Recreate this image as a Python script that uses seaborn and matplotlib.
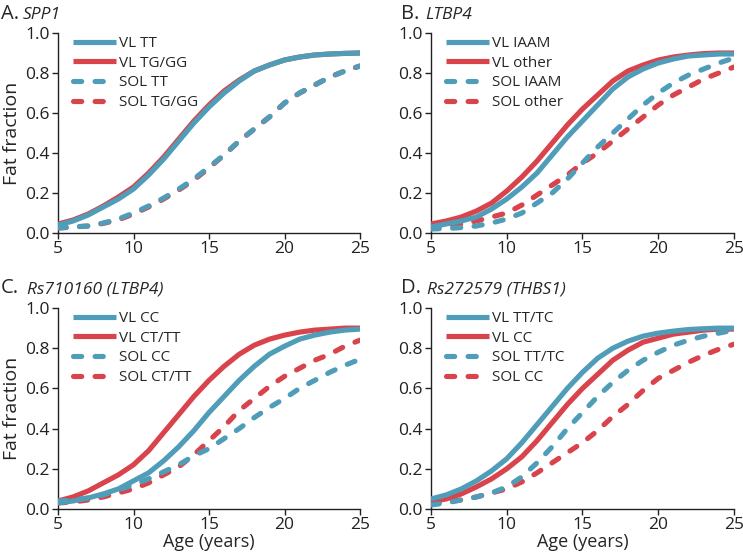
import matplotlib
matplotlib.use("Agg")
import matplotlib.pyplot as plt
import pandas as pd
import seaborn as sns

AGES = list(range(5, 26))

# panel A: SPP1
A_VL_TT = [0.04, 0.06, 0.09, 0.13, 0.17, 0.22, 0.29, 0.37, 0.46, 0.55, 0.63, 0.70, 0.76, 0.81, 0.84, 0.865, 0.88, 0.89, 0.895, 0.898, 0.90]
A_VL_TG = [0.045, 0.065, 0.095, 0.135, 0.18, 0.23, 0.30, 0.38, 0.47, 0.56, 0.64, 0.71, 0.765, 0.81, 0.84, 0.865, 0.88, 0.89, 0.895, 0.898, 0.90]
A_SOL_TT = [0.025, 0.03, 0.035, 0.05, 0.07, 0.10, 0.135, 0.175, 0.22, 0.27, 0.33, 0.39, 0.46, 0.52, 0.58, 0.65, 0.70, 0.74, 0.78, 0.81, 0.835]
A_SOL_TG = [0.025, 0.03, 0.035, 0.048, 0.066, 0.095, 0.13, 0.17, 0.215, 0.265, 0.325, 0.39, 0.46, 0.52, 0.58, 0.65, 0.70, 0.74, 0.78, 0.81, 0.835]

# panel B: LTBP4
B_VL_IAAM = [0.03, 0.045, 0.06, 0.08, 0.12, 0.17, 0.23, 0.30, 0.39, 0.48, 0.56, 0.64, 0.72, 0.78, 0.82, 0.85, 0.87, 0.885, 0.89, 0.895, 0.895]
B_VL_OTHER = [0.045, 0.06, 0.08, 0.11, 0.15, 0.21, 0.28, 0.36, 0.45, 0.54, 0.62, 0.69, 0.76, 0.81, 0.84, 0.865, 0.88, 0.89, 0.897, 0.90, 0.90]
B_SOL_IAAM = [0.02, 0.022, 0.027, 0.035, 0.05, 0.07, 0.10, 0.15, 0.20, 0.27, 0.35, 0.43, 0.50, 0.57, 0.64, 0.70, 0.75, 0.79, 0.82, 0.85, 0.875]
B_SOL_OTHER = [0.03, 0.035, 0.045, 0.06, 0.08, 0.10, 0.14, 0.19, 0.24, 0.29, 0.35, 0.40, 0.46, 0.52, 0.58, 0.64, 0.69, 0.73, 0.77, 0.80, 0.83]

# panel C: rs710160 (LTBP4)
C_VL_CC = [0.03, 0.04, 0.055, 0.075, 0.10, 0.14, 0.18, 0.24, 0.31, 0.39, 0.48, 0.56, 0.64, 0.71, 0.77, 0.81, 0.845, 0.865, 0.88, 0.89, 0.895]
C_VL_CT = [0.04, 0.06, 0.09, 0.13, 0.17, 0.22, 0.29, 0.38, 0.47, 0.56, 0.64, 0.71, 0.77, 0.815, 0.845, 0.865, 0.88, 0.89, 0.895, 0.90, 0.90]
C_SOL_CC = [0.04, 0.045, 0.055, 0.07, 0.095, 0.12, 0.15, 0.185, 0.22, 0.265, 0.30, 0.35, 0.40, 0.455, 0.505, 0.55, 0.60, 0.64, 0.68, 0.715, 0.745]
C_SOL_CT = [0.03, 0.035, 0.045, 0.06, 0.08, 0.10, 0.13, 0.17, 0.21, 0.27, 0.34, 0.41, 0.49, 0.55, 0.61, 0.66, 0.70, 0.74, 0.77, 0.81, 0.84]

# panel D: rs272579 (THBS1)
D_VL_TT = [0.05, 0.07, 0.10, 0.14, 0.19, 0.25, 0.33, 0.42, 0.51, 0.60, 0.68, 0.75, 0.80, 0.835, 0.86, 0.875, 0.885, 0.893, 0.897, 0.90, 0.90]
D_VL_CC = [0.035, 0.05, 0.075, 0.11, 0.15, 0.20, 0.26, 0.34, 0.43, 0.52, 0.60, 0.67, 0.74, 0.79, 0.83, 0.85, 0.87, 0.88, 0.89, 0.895, 0.895]
D_SOL_TT = [0.02, 0.03, 0.045, 0.06, 0.08, 0.11, 0.16, 0.23, 0.31, 0.40, 0.48, 0.56, 0.63, 0.69, 0.74, 0.78, 0.815, 0.84, 0.86, 0.875, 0.89]
D_SOL_CC = [0.03, 0.035, 0.045, 0.06, 0.08, 0.10, 0.135, 0.18, 0.23, 0.28, 0.33, 0.39, 0.46, 0.52, 0.59, 0.65, 0.69, 0.73, 0.765, 0.795, 0.82]

PANELS = [
    ("A.", "SPP1", [("VL TT", A_VL_TT), ("VL TG/GG", A_VL_TG), ("SOL TT", A_SOL_TT), ("SOL TG/GG", A_SOL_TG)]),
    ("B.", "LTBP4", [("VL IAAM", B_VL_IAAM), ("VL other", B_VL_OTHER), ("SOL IAAM", B_SOL_IAAM), ("SOL other", B_SOL_OTHER)]),
    ("C.", "Rs710160 (LTBP4)", [("VL CC", C_VL_CC), ("VL CT/TT", C_VL_CT), ("SOL CC", C_SOL_CC), ("SOL CT/TT", C_SOL_CT)]),
    ("D.", "Rs272579 (THBS1)", [("VL TT/TC", D_VL_TT), ("VL CC", D_VL_CC), ("SOL TT/TC", D_SOL_TT), ("SOL CC", D_SOL_CC)]),
]

BLUE = "#4f9db8"
RED = "#d9434b"
DASH = (0, (1.6, 2.6))
# colour, linestyle, zorder (blue sits on top of red)
STYLES = [(BLUE, "-", 4), (RED, "-", 3), (BLUE, DASH, 4), (RED, DASH, 3)]

sns.set_theme(style="ticks")
plt.rcParams["font.family"] = ["Open Sans", "DejaVu Sans"]
plt.rcParams["axes.edgecolor"] = "#222222"
plt.rcParams["axes.linewidth"] = 1.0

fig = plt.figure(figsize=(7.43, 5.53), dpi=100)
W, H = 743, 553
boxes = [(58, 33, 360, 233), (431, 33, 734, 233), (58, 308, 360, 509), (431, 308, 734, 509)]
# pixel x of panel letter, x of gene name, baseline y
title_pos = [(1, 23, 19), (401, 425, 19), (1, 27, 293), (401, 427, 293)]

for i, ((letter, gene, series), (x0, y0, x1, y1)) in enumerate(zip(PANELS, boxes)):
    ax = fig.add_axes([x0 / W, 1 - y1 / H, (x1 - x0) / W, (y1 - y0) / H])
    for (label, vals), (color, ls, z) in zip(series, STYLES):
        df = pd.DataFrame({"age": AGES, "ff": vals})
        sns.lineplot(data=df, x="age", y="ff", ax=ax, color=color, linestyle=ls,
                     linewidth=3.7, label=label, solid_capstyle="butt",
                     dash_capstyle="round", zorder=z)
    ax.set_xlim(5, 25)
    ax.set_ylim(0, 1.0)
    ax.set_xticks([5, 10, 15, 20, 25])
    ax.set_yticks([0, 0.2, 0.4, 0.6, 0.8, 1.0])
    ax.set_yticklabels([f"{v:.1f}" for v in [0, 0.2, 0.4, 0.6, 0.8, 1.0]])
    ax.tick_params(labelsize=12.5, length=4, width=1, pad=2, colors="#222222")
    sns.despine(ax=ax)
    ax.set_xlabel("Age (years)" if i >= 2 else "", fontsize=13, labelpad=0)
    ax.set_ylabel("Fat fraction" if i % 2 == 0 else "", fontsize=14, labelpad=3)
    ax.legend(loc="upper left", frameon=False, fontsize=11, handlelength=2.8,
              handletextpad=0.2, labelspacing=0.3, borderaxespad=0.2,
              bbox_to_anchor=(0.02, 1.03))
    lx, gx, by = title_pos[i]
    fig.text(lx / W, 1 - by / H, letter, fontsize=14.5, va="baseline", ha="left")
    fig.text(gx / W, 1 - by / H, gene, fontsize=12.5, style="italic", va="baseline", ha="left")

fig.savefig("out.png", dpi=100)
